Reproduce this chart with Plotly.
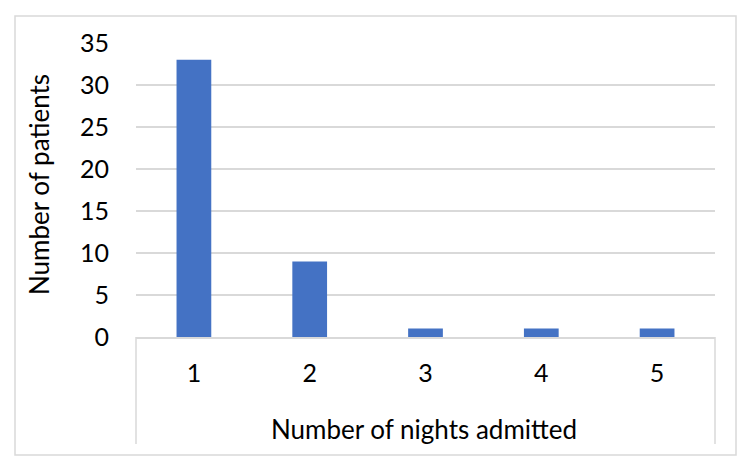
import plotly.graph_objects as go

nights = ["1", "2", "3", "4", "5"]
patients = [33, 9, 1, 1, 1]
y_ticks = [0, 5, 10, 15, 20, 25, 30, 35]

FONT = "Lato, Carlito, 'Open Sans', sans-serif"
GRID = "#d9d9d9"

fig = go.Figure(go.Bar(x=nights, y=patients, marker_color="#4472C4", marker_line_width=0))

L, R, T, B = 136, 35, 43, 137
W, H = 750, 474
pw, ph = W - L - R, H - T - B

def px_x(x):
    return (x - L) / pw

def px_y(y):
    return (H - B - y) / ph

fig.update_layout(
    width=W, height=H,
    margin=dict(l=L, r=R, t=T, b=B),
    paper_bgcolor="white", plot_bgcolor="white",
    bargap=0.7,
    showlegend=False,
    font=dict(family=FONT, size=26, color="#000000"),
    xaxis=dict(
        type="category", showline=True, linecolor=GRID, linewidth=1.5,
        showgrid=False, ticks="", ticklabelstandoff=13,
        tickfont=dict(size=25),
    ),
    yaxis=dict(
        range=[0, 35], tickvals=y_ticks, showgrid=True, gridcolor=GRID, gridwidth=1.5,
        zeroline=False, showline=False, ticks="", ticklabelstandoff=26,
        tickfont=dict(size=25),
    ),
    shapes=[
        dict(type="rect", xref="paper", yref="paper",
             x0=px_x(15), x1=px_x(736), y0=px_y(455), y1=px_y(16),
             line=dict(color=GRID, width=1.5), layer="below"),
        dict(type="line", xref="paper", yref="paper",
             x0=0, x1=0, y0=px_y(444), y1=0, line=dict(color=GRID, width=1.5)),
        dict(type="line", xref="paper", yref="paper",
             x0=1, x1=1, y0=px_y(444), y1=0, line=dict(color=GRID, width=1.5)),
    ],
    annotations=[
        dict(text="Number of nights admitted", xref="paper", yref="paper",
             x=px_x(424), y=px_y(429), showarrow=False, font=dict(size=26),
             xanchor="center", yanchor="middle"),
        dict(text="Number of patients", xref="paper", yref="paper",
             x=px_x(39), y=px_y(185), showarrow=False, font=dict(size=26),
             textangle=-90, xanchor="center", yanchor="middle"),
    ],
)

fig.write_html("out.html")
